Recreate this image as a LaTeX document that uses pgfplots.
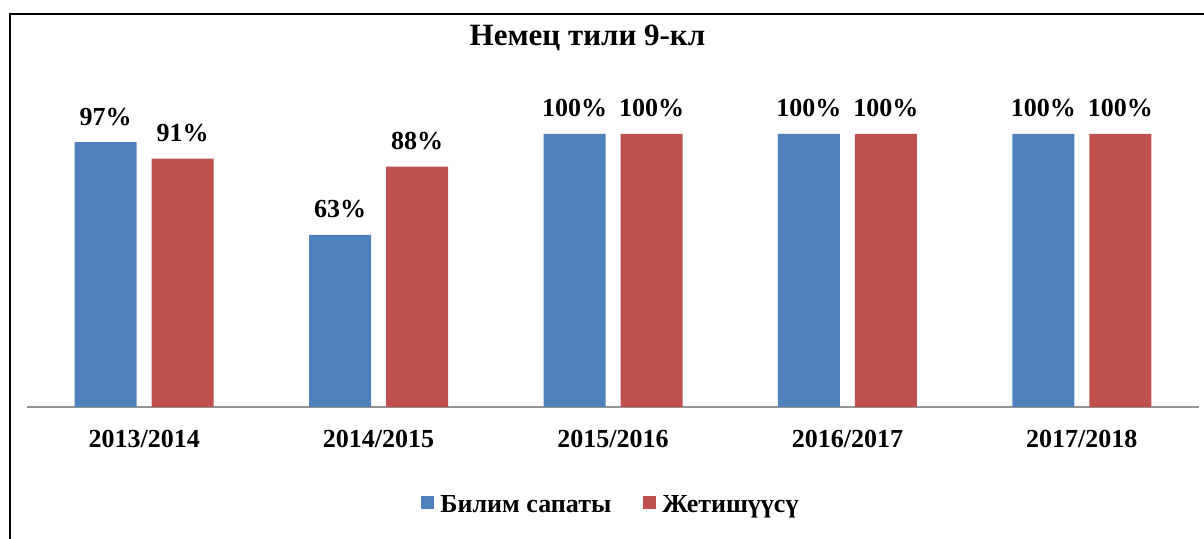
\documentclass[border=0pt]{standalone}
\usepackage{fontspec}
\setmainfont{Liberation Serif}
\usepackage{pgfplots}
\pgfplotsset{compat=1.18}
\definecolor{cblue}{HTML}{4F81BD}
\definecolor{cred}{HTML}{C0504D}
\newcommand{\bigfont}{\fontsize{26bp}{30bp}\selectfont\bfseries}
\newcommand{\titlefont}{\fontsize{31bp}{35bp}\selectfont\bfseries}
\begin{document}
\begin{tikzpicture}[x=1bp,y=1bp]
\useasboundingbox (0,0) rectangle (1204,539);
\clip (0,0) rectangle (1204,539);
\draw[line width=2bp] (10,-20) -- (10,525.3) -- (1230,525.3);
\begin{axis}[
  at={(27bp,132bp)}, anchor=south west,
  scale only axis, width=1172bp, height=273bp,
  xmin=-0.5, xmax=4.5, ymin=0, ymax=100,
  axis y line=none, axis x line*=bottom,
  axis line style={draw=gray!85, line width=1.5bp},
  xtick={0,1,2,3,4},
  xticklabels={2013/2014,2014/2015,2015/2016,2016/2017,2017/2018},
  major tick length=0pt,
  xticklabel style={anchor=base, yshift=-41bp, font=\bigfont},
  ybar=15bp, bar width=62bp,
  clip=false,
  /pgf/number format/assume math mode=true,
  nodes near coords={\pgfmathprintnumber{\pgfplotspointmeta}\%},
  every node near coord/.append style={anchor=base, yshift=17bp, font=\bigfont, inner sep=0pt, text=black},
  title={Немец тили 9-кл},
  title style={at={(0.5,1)}, anchor=base, yshift=83bp, xshift=-25.5bp, font=\titlefont},
  legend style={at={(0.5,0)}, anchor=south, yshift=-115bp, draw=none, fill=none, inner sep=0pt,
    font=\bigfont, nodes={inner ysep=3bp, inner xsep=6bp, text height=18bp, text depth=6bp},
    /tikz/every even column/.append style={column sep=26bp}},
  legend columns=2,
  legend image code/.code={\fill[#1] (0bp,-2bp) rectangle (13bp,11bp);},
]
\addplot[fill=cblue, draw=none] coordinates {(0,97) (1,63) (2,100) (3,100) (4,100)};
\addplot[fill=cred, draw=none] coordinates {(0,91) (1,88) (2,100) (3,100) (4,100)};
\legend{Билим сапаты, Жетишүүсү}
\end{axis}
\end{tikzpicture}
\end{document}
